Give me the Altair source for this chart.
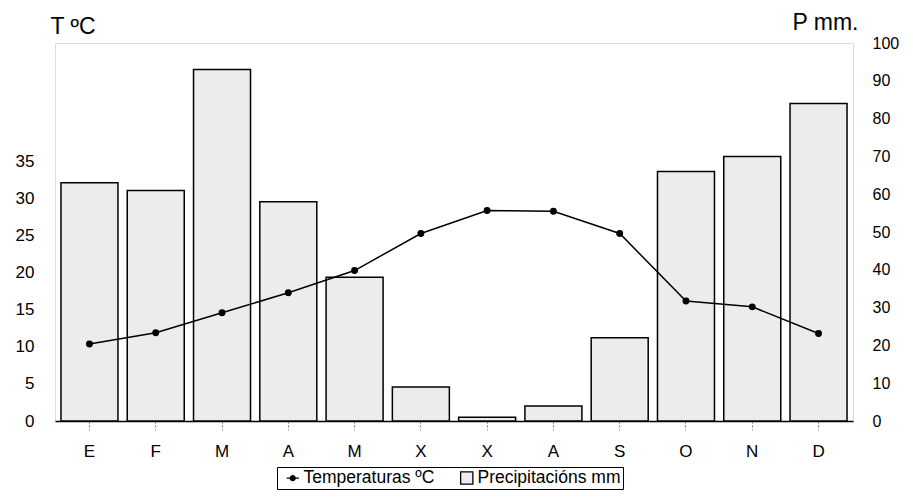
import altair as alt
import pandas as pd

months = ["E", "F", "M", "A", "M ", "X", "X ", "A ", "S", "O", "N", "D"]
precip = [63, 61, 93, 58, 38, 9, 1, 4, 22, 66, 70, 84]
temp = [10.4, 11.9, 14.6, 17.3, 20.3, 25.3, 28.4, 28.3, 25.3, 16.2, 15.4, 11.8]
legend_items = ["Temperaturas ºC", "Precipitacións mm"]

df = pd.DataFrame({"mes": months, "precip": precip, "temp": temp})
leg_df = pd.DataFrame({"serie": legend_items})

FONT = "Liberation Sans"
label_expr = "replace(datum.label, ' ', '')"

x_enc = alt.X(
    "mes:N",
    sort=months,
    scale=alt.Scale(paddingInner=0.14, paddingOuter=0.09),
    axis=alt.Axis(
        title=None, labelAngle=0, labelExpr=label_expr, labelFontSize=17,
        labelFont=FONT, labelColor="black", tickSize=9, tickColor="#777",
        tickDash=[2, 2], labelPadding=13, domainColor="black", domainWidth=1.5,
    ),
)

bars = alt.Chart(df).mark_bar(
    fill="#ececec", stroke="black", strokeWidth=1.5
).encode(
    x=x_enc,
    y=alt.Y(
        "precip:Q",
        scale=alt.Scale(domain=[0, 100], nice=False),
        axis=alt.Axis(
            orient="right", values=list(range(0, 101, 10)), title="P mm.",
            titleAngle=0, titleAlign="right", titleBaseline="alphabetic",
            titleX=5, titleY=-14, titleFont=FONT, titleFontSize=23,
            titleFontWeight="normal", titleColor="black",
            labelFont=FONT, labelFontSize=16, labelColor="black",
            labelPadding=19, tickSize=0, domain=False, grid=False,
        ),
    ),
)

temp_base = alt.Chart(df).encode(
    x=alt.X("mes:N", sort=months),
    y=alt.Y(
        "temp:Q",
        scale=alt.Scale(domain=[0, 51], nice=False),
        axis=alt.Axis(
            orient="left", values=list(range(0, 36, 5)), title="T ºC",
            titleAngle=0, titleAlign="left", titleBaseline="alphabetic",
            titleX=-5, titleY=-10, titleFont=FONT, titleFontSize=23,
            titleFontWeight="normal", titleColor="black",
            labelFont=FONT, labelFontSize=17, labelColor="black",
            labelPadding=21, tickSize=0, domain=False, grid=False,
        ),
    ),
)
line = temp_base.mark_line(color="black", strokeWidth=1.5)
pts = temp_base.mark_point(filled=True, color="black", size=48, opacity=1)
temps = alt.layer(line, pts)

line_dot = "M-1,0L1,0M-0.4,0a0.4,0.4 0 1,0 0.8,0a0.4,0.4 0 1,0 -0.8,0"

def mk_legend():
    return alt.Legend(
        title=None, orient="none", legendX=222, legendY=424,
        direction="horizontal", strokeColor="black", fillColor="white",
        padding=2, symbolSize=150, symbolStrokeWidth=1.3, symbolOpacity=1,
        labelFont=FONT, labelFontSize=17.5, labelColor="black", labelOffset=2,
        columnPadding=18, symbolOffset=5,
    )

legend_layer = alt.Chart(leg_df).mark_point(
    opacity=0, strokeWidth=1.3
).encode(
    x=alt.value(-1000),
    shape=alt.Shape(
        "serie:N",
        scale=alt.Scale(domain=legend_items, range=[line_dot, "square"]),
        legend=mk_legend(),
    ),
    fill=alt.Fill(
        "serie:N",
        scale=alt.Scale(domain=legend_items, range=["black", "#ececec"]),
        legend=mk_legend(),
    ),
    stroke=alt.Stroke(
        "serie:N",
        scale=alt.Scale(domain=legend_items, range=["black", "black"]),
        legend=mk_legend(),
    ),
)

chart = alt.layer(bars, temps, legend_layer).resolve_scale(
    y="independent"
).properties(
    width=798, height=378,
    autosize=alt.AutoSizeParams(type="none"),
    padding={"left": 47, "top": 35, "right": 52, "bottom": 69},
).configure_view(
    stroke="black", strokeWidth=1.5
).configure(background="white")

chart.save("out.html", embed_options={"renderer": "svg", "actions": False})
